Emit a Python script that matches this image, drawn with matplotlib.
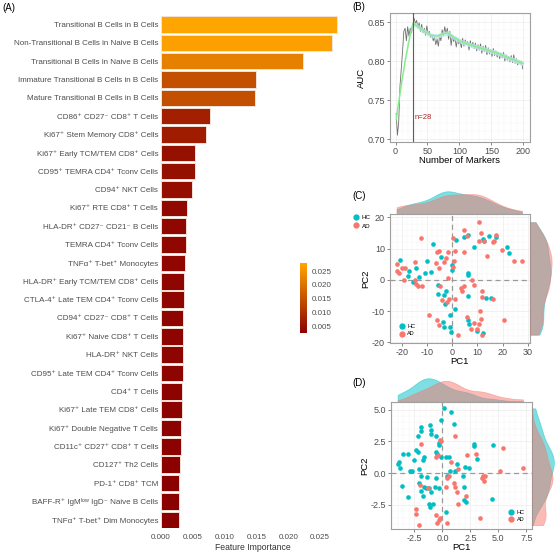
import numpy as np
import matplotlib.pyplot as plt
from matplotlib.colors import LinearSegmentedColormap, Normalize
from matplotlib.cm import ScalarMappable
from matplotlib.lines import Line2D

plt.rcParams['font.family'] = ['Liberation Sans', 'DejaVu Sans']
plt.rcParams['axes.unicode_minus'] = False

# ---- panel A data
features = ['Transitional B Cells in B Cells',
            'Non-Transitional B Cells in Naive B Cells',
            'Transitional B Cells in Naive B Cells',
            'Immature Transitional B Cells in B Cells',
            'Mature Transitional B Cells in B Cells',
            'CD86⁺ CD27⁻ CD8⁺ T Cells',
            'Ki67⁺ Stem Memory CD8⁺ Cells',
            'Ki67⁺ Early TCM/TEM CD8⁺ Cells',
            'CD95⁺ TEMRA CD4⁺ Tconv Cells',
            'CD94⁺ NKT Cells',
            'Ki67⁺ RTE CD8⁺ T Cells',
            'HLA-DR⁺ CD27⁻ CD21⁻ B Cells',
            'TEMRA CD4⁺ Tconv Cells',
            'TNFα⁺ T-bet⁺ Monocytes',
            'HLA-DR⁺ Early TCM/TEM CD8⁺ Cells',
            'CTLA-4⁺ Late TEM CD4⁺ Tconv Cells',
            'CD94⁺ CD27⁻ CD8⁺ T Cells',
            'Ki67⁺ Naive CD8⁺ T Cells',
            'HLA-DR⁺ NKT Cells',
            'CD95⁺ Late TEM CD4⁺ Tconv Cells',
            'CD4⁺ T Cells',
            'Ki67⁺ Late TEM CD8⁺ Cells',
            'Ki67⁺ Double Negative T Cells',
            'CD11c⁺ CD27⁺ CD8⁺ T Cells',
            'CD127⁺ Th2 Cells',
            'PD-1⁺ CD8⁺ TCM',
            'BAFF-R⁺ IgMˡᵒʷ IgD⁻ Naive B Cells',
            'TNFα⁺ T-bet⁺ Dim Monocytes']
importance = [0.0277, 0.0269, 0.0223, 0.0149, 0.0148, 0.0077, 0.0071, 0.0053,
              0.0053, 0.0049, 0.0041, 0.0039, 0.0039, 0.0038, 0.0036, 0.0036,
              0.0035, 0.0034, 0.0034, 0.0034, 0.0033, 0.0033, 0.0031, 0.0031,
              0.0030, 0.0029, 0.0029, 0.0028]

# ---- panel B data
markers = list(range(1, 201, 2))
auc = [0.733, 0.705, 0.722, 0.768, 0.790, 0.812, 0.838, 0.842, 0.826, 0.844,
       0.832, 0.842, 0.836, 0.846, 0.855, 0.848, 0.852, 0.843, 0.849, 0.838,
       0.847, 0.836, 0.842, 0.833, 0.845, 0.835, 0.838, 0.830, 0.834, 0.826,
       0.831, 0.821, 0.828, 0.819, 0.833, 0.826, 0.840, 0.832, 0.844, 0.835,
       0.842, 0.828, 0.838, 0.820, 0.833, 0.825, 0.830, 0.818, 0.828, 0.822,
       0.826, 0.817, 0.829, 0.819, 0.827, 0.821, 0.825, 0.814, 0.826, 0.818,
       0.824, 0.816, 0.823, 0.813, 0.821, 0.814, 0.822, 0.810, 0.819, 0.812,
       0.820, 0.808, 0.817, 0.809, 0.815, 0.806, 0.816, 0.807, 0.813, 0.805,
       0.811, 0.803, 0.810, 0.804, 0.811, 0.800, 0.808, 0.801, 0.806, 0.799,
       0.807, 0.798, 0.808, 0.797, 0.803, 0.795, 0.801, 0.796, 0.800, 0.790]
smooth_n = [1, 5, 10, 15, 20, 25, 28, 35, 45, 55, 65, 75, 82, 90, 105, 120, 140, 160, 180, 200]
smooth_auc = [0.725, 0.748, 0.775, 0.800, 0.822, 0.842, 0.848, 0.844, 0.838, 0.833,
              0.832, 0.835, 0.836, 0.831, 0.824, 0.820, 0.815, 0.810, 0.803, 0.797]
best_n = 28

# ---- panel C data (PCA of 28 markers)
c_hc_x = [-20.7, -17, -17.5, -14.4, -13, -15.4, -10.8, -8.5, -9.8, -7.6, -4.3, -5.6,
          -5.6, -2.6, -3, -2.7, 1.3, -1, -3.7, -3.3, -1, -0.4, 0, 0.1, 1.6, 4.6, 6.5,
          8.8, 6.5, 6.5, 6.5, 6.4, 6.8, 9.8, 12.3, 12.7, 14.7, 17.3, 13.3, 15.3, 12.4,
          21.6, 22.5]
c_hc_y = [6.5, 2.8, 1.2, 3.7, 0.8, -0.7, 2.1, 2.4, 6.1, 11.4, 7.2, -1.6,
          -4.4, -3.4, -4.8, -7.8, -9.2, -11.3, -13.4, -15, -15, -16.6, 3.2, 4.9, 12.7,
          13.8, 14.4, 10.6, 2.1, 1.6, -5.2, -12.7, -14, -16.3, 13.2, 12.5, 14.1, 13.8,
          -5.8, -5.7, -17.1, 10.4, 8.6]
c_ad_x = [-21.7, -22, -20.9, -20, -18.7, -19.1, -14.8, -14.8, -14.1, -13.7, -12.4, -11.8,
          -9.2, -6, -5.2, -6.3, -5, -1.7, -2.4, -3, -1.7, -4.7, -3.9, -1.3, -2.1, -5,
          -6, 1.3, 0.7, 0.5, 1.3, 2.4, 0.5, 4.8, 4.6, 8.1, 3.9, 4.8, 6.1, 10.7, 10.5,
          11.6, 12.7, 13.7, 16.6, 17.3, 16.2, 19.9, 24.4, 27.7, 12, 12, 16.3, 11.1,
          11.4, 8.5, 10.7, 9.7, 7.7, 5.8, 11.8, 20.5, 8.5, 3.5]
c_ad_y = [5.1, 2.8, 2.2, 3.8, 3.8, -0.2, 5.7, 0.1, -1.3, -2.1, 13.3, -1.9,
          -11.1, 9, 9.3, 5.3, 3.8, 9, 7, 5.6, 0.6, -2.1, -6.3, -6, -7.1, -14.5,
          -12.9, 9.3, 5.9, 4, -6.2, -17.5, 13.3, 15.9, 8.8, -0.2, -3.4, -2.1, 14.1, 18.4,
          12.3, 15.1, 12.3, 7.7, 12.3, 14.3, 12.2, 9.6, 6.1, 5.9, -3.4, -5.5, -6.2, -9.9,
          -12.4, -13.8, -14.2, -15.6, -15.6, -12, -17.5, -12.7, -1.8, -2.5]

# ---- panel D data (PCA of all markers)
d_hc_x = [0.1, 0.8, 1.0, -1.1, -1.9, -1.9, -1.0, -0.6, -2.2, -1.0, -0.1, -3.1, -3.9,
          -4.0, -3.8, -3.5, -2.4, -2.2, -2.5, -2.9, -2.7, -2.1, -1.7, -1.6, -0.6, -0.5,
          -0.1, 0.3, 0.6, -0.3, -0.3, -1.9, -1.4, -0.6, 0.4, 0.7, -3.6, -3.1, -2.1, -1.6,
          -1.5, -1.2, -1.0, -0.7, -0.3, -1.9, -1.7, -1.2, -1.1, -0.8, 0.3, 1.1, 1.3, 2.0,
          2.4, 2.8, 2.8, 3.1, 1.8, 1.9, 1.9, 2.1, 4.4, 4.5]
d_hc_y = [5.1, 4.8, 3.9, 3.8, 3.6, 3.3, 3.4, 2.9, 2.9, 3.1, 4.2, 1.5, 0.9,
          0.7, 0.4, 1.5, 1.8, 1.7, 1.0, 0.2, 0.2, 0.3, 1.0, 1.3, 1.7, 1.5,
          1.3, 1.3, 1.3, 2.2, 2.4, -0.2, -0.3, -0.4, -0.2, 0.2, -1.0, -1.9, -0.8, -1.1,
          -1.2, -1.2, -1.5, -1.1, -1.2, -1.4, -1.8, -2.4, -2.7, -2.4, -3.1, 0.2, 0.7, 0.5,
          0.4, 2.3, 2.1, 1.1, -0.2, -1.1, -2.1, -2.3, -2.0, 2.2]
d_ad_x = [1.1, -0.2, -1.9, -0.6, 0.8, 2.2, 3.0, 0.6, 0.4, 0.3, 1.0, 1.1, 1.3, 2.1,
          1.4, -2.0, -2.4, -2.4, -2.1, -0.6, -0.3, -0.2, -0.5, 0.4, 3.6, 3.8, 3.5, 3.7,
          3.4, 5.1, 5.4, 7.2, -0.4, -1.3, 1.4, -0.1]
d_ad_y = [2.9, 2.6, 2.3, 1.3, 0.9, 1.4, 1.5, -0.2, -0.4, -1.1, -0.8, -1.1, -1.5, -1.8,
          -2.4, -0.9, -2.8, -3.2, -4.1, -3.3, -3.7, -3.5, -3.9, -3.9, -0.2, -0.2, -0.4, -0.6,
          -3.5, 0.2, 2.0, 0.4, 1.4, -1.2, 0.3, 2.5]

hc_col = '#00BFC4'
ad_col = '#F8766D'


def kde(vals, grid):
    vals = np.asarray(vals, dtype=float)
    n = len(vals)
    iqr = np.percentile(vals, 75) - np.percentile(vals, 25)
    bw = 0.9 * min(vals.std(ddof=1), iqr / 1.34) * n ** -0.2
    z = (grid[:, None] - vals[None, :]) / bw
    return np.exp(-0.5 * z ** 2).sum(1) / (n * bw * np.sqrt(2 * np.pi))


def style_bw(ax):
    ax.set_facecolor('white')
    ax.minorticks_on()
    ax.grid(True, which='major', color='#EBEBEB', lw=0.5)
    ax.grid(True, which='minor', color='#F4F4F4', lw=0.3)
    ax.set_axisbelow(True)
    for s in ax.spines.values():
        s.set_color('#A0A0A0')
        s.set_linewidth(0.8)
    ax.tick_params(which='major', length=2, width=0.5, color='#555555',
                   labelsize=6.5, labelcolor='#4D4D4D', pad=1.5)
    ax.tick_params(which='minor', length=0)


def pca_panel(main, top, right, hx, hy, ax_, ay_, xlim, ylim):
    style_bw(main)
    main.axhline(0, color='#999999', lw=0.9, ls=(0, (4, 3)), zorder=1)
    main.axvline(0, color='#999999', lw=0.9, ls=(0, (4, 3)), zorder=1)
    main.scatter(hx, hy, s=11, color=hc_col, lw=0, zorder=3)
    main.scatter(ax_, ay_, s=11, color=ad_col, lw=0, zorder=3)
    main.set_xlim(*xlim)
    main.set_ylim(*ylim)
    main.set_xlabel('PC1', fontsize=6.8, labelpad=0)
    main.set_ylabel('PC2', fontsize=6.8, labelpad=1)
    allx = np.r_[hx, ax_]
    ally = np.r_[hy, ay_]
    gx = np.linspace(allx.min(), allx.max(), 200)
    gy = np.linspace(ally.min(), ally.max(), 200)
    for vals, col in [(hx, hc_col), (ax_, ad_col)]:
        top.fill_between(gx, kde(vals, gx), color=col, alpha=0.5, lw=0.5)
    for vals, col in [(hy, hc_col), (ay_, ad_col)]:
        right.fill_betweenx(gy, kde(vals, gy), color=col, alpha=0.5, lw=0.5)
    top.set_xlim(*xlim)
    top.set_ylim(0, None)
    right.set_ylim(*ylim)
    right.set_xlim(0, None)
    top.axis('off')
    right.axis('off')


fig = plt.figure(figsize=(5.6, 5.57), dpi=100)

# ---- (A) feature importance
axA = fig.add_axes([0.2875, 0.052, 0.3286, 0.919])
cmap = LinearSegmentedColormap.from_list('imp', ['#8B0000', '#FFA500'])
norm = Normalize(vmin=min(importance), vmax=max(importance))
ypos = np.arange(len(features))
axA.barh(ypos, importance, height=0.9, color=cmap(norm(importance)),
         edgecolor='#F2E2DA', lw=0.7)
axA.set_ylim(len(features) - 0.55, -0.45)
axA.set_xlim(0, 0.0289)
axA.set_yticks(ypos)
axA.set_yticklabels(features, fontsize=5.8, color='#333333')
axA.set_xticks([0, 0.005, 0.01, 0.015, 0.02, 0.025])
axA.set_xticklabels(['0.000', '0.005', '0.010', '0.015', '0.020', '0.025'])
axA.tick_params(length=0, labelsize=5.8, labelcolor='#4D4D4D', pad=2)
axA.tick_params(axis='x', pad=4)
axA.set_xlabel('Feature Importance', fontsize=6.2, color='#333333', labelpad=2)
for s in axA.spines.values():
    s.set_visible(False)

cax = fig.add_axes([0.536, 0.402, 0.0125, 0.125])
cb = fig.colorbar(ScalarMappable(norm=norm, cmap=cmap), cax=cax)
cb.outline.set_visible(False)
cb.set_ticks([0.005, 0.01, 0.015, 0.02, 0.025])
cb.set_ticklabels(['0.005', '0.010', '0.015', '0.020', '0.025'])
cax.tick_params(length=2, color='white', labelsize=5.8, labelcolor='#4D4D4D', pad=1)

# ---- (B) AUC vs number of markers
axB = fig.add_axes([0.696, 0.745, 0.25, 0.2316])
style_bw(axB)
axB.plot(markers, auc, color='#6E6E6E', lw=0.6, zorder=2)
sm = np.array(smooth_auc)
axB.fill_between(smooth_n, sm - 0.003, sm + 0.003, color='#BFE6F0', alpha=0.8, lw=0, zorder=3)
axB.plot(smooth_n, smooth_auc, color='#86EE86', lw=1.0, zorder=4)
axB.axvline(best_n, color='#8B4A4A', lw=0.8, zorder=5)
axB.text(best_n + 1, 0.727, 'n=' + str(best_n), color='#B22222', fontsize=5.5, va='center')
axB.set_xlim(-9, 210)
axB.set_ylim(0.6962, 0.8615)
axB.set_xticks([0, 50, 100, 150, 200])
axB.set_yticks([0.70, 0.75, 0.80, 0.85])
axB.set_yticklabels(['0.70', '0.75', '0.80', '0.85'])
axB.set_xlabel('Number of Markers', fontsize=6.8, labelpad=0)
axB.set_ylabel('AUC', fontsize=6.8, labelpad=1)

# ---- (C) PCA with 28 markers
axC = fig.add_axes([0.696, 0.384, 0.25, 0.2316])
axCt = fig.add_axes([0.696, 0.6176, 0.25, 0.041])
axCr = fig.add_axes([0.946, 0.384, 0.041, 0.2316])
pca_panel(axC, axCt, axCr, c_hc_x, c_hc_y, c_ad_x, c_ad_y, (-24.7, 30.8), (-20.2, 21))
axC.set_xticks([-20, -10, 0, 10, 20, 30])
axC.set_yticks([-20, -10, 0, 10, 20])

handles = [Line2D([], [], ls='', marker='o', ms=3.5, color=hc_col, label='HC'),
           Line2D([], [], ls='', marker='o', ms=3.5, color=ad_col, label='AD')]
leg_out = axC.legend(handles=handles, loc='upper left', bbox_to_anchor=(0.625, 0.62),
                     bbox_transform=fig.transFigure, frameon=False, fontsize=4.5,
                     handlelength=0.8, handletextpad=0.6, labelspacing=0.5, borderpad=0)
axC.add_artist(leg_out)
axC.legend(handles=handles, loc='lower left', bbox_to_anchor=(0.05, 0.03),
           frameon=False, fontsize=4, handlelength=0.8, handletextpad=0.6,
           labelspacing=0.5, borderpad=0)

# ---- (D) PCA with all markers
axD = fig.add_axes([0.698, 0.0503, 0.252, 0.228])
axDt = fig.add_axes([0.698, 0.280, 0.252, 0.043])
axDr = fig.add_axes([0.950, 0.0503, 0.041, 0.228])
pca_panel(axD, axDt, axDr, d_hc_x, d_hc_y, d_ad_x, d_ad_y, (-4.6, 8.0), (-4.4, 5.6))
axD.set_xticks([-2.5, 0, 2.5, 5, 7.5])
axD.set_xticklabels(['-2.5', '0.0', '2.5', '5.0', '7.5'])
axD.set_yticks([-2.5, 0, 2.5, 5])
axD.set_yticklabels(['-2.5', '0.0', '2.5', '5.0'])
axD.legend(handles=handles, loc='lower right', bbox_to_anchor=(0.97, 0.03),
           frameon=False, fontsize=4, handlelength=0.8, handletextpad=0.6,
           labelspacing=0.5, borderpad=0)

# panel tags
fig.text(0.005, 0.985, '(A)', fontsize=7, va='center')
fig.text(0.629, 0.987, '(B)', fontsize=7, va='center')
fig.text(0.629, 0.648, '(C)', fontsize=7, va='center')
fig.text(0.629, 0.312, '(D)', fontsize=7, va='center')

fig.savefig('out.png', dpi=100)
